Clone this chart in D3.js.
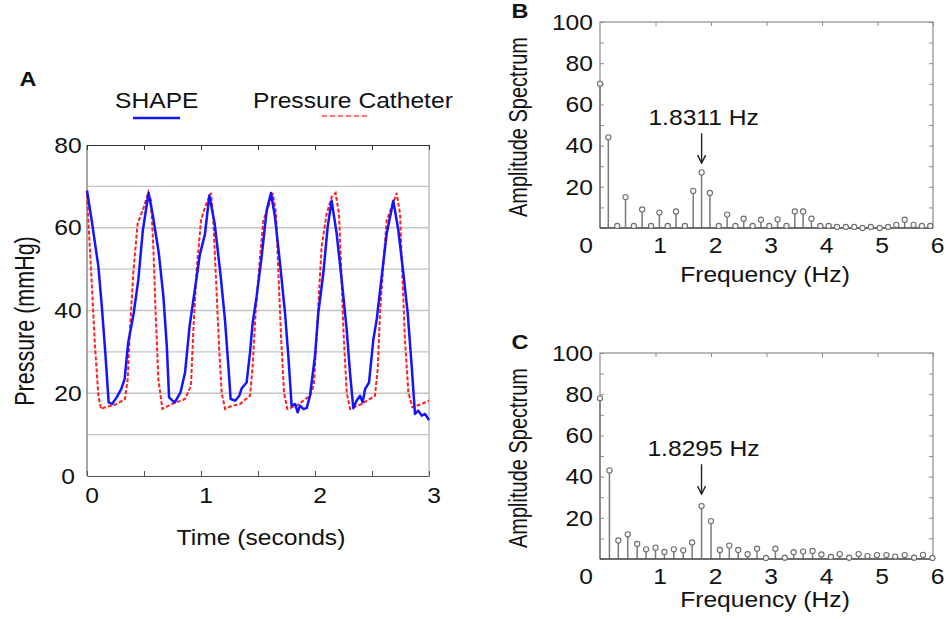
<!DOCTYPE html>
<html>
<head>
<meta charset="utf-8">
<script src="https://cdn.jsdelivr.net/npm/d3@7"></script>
<style>
  body { margin: 0; background: #fff; }
  text { font-family: "Liberation Sans", Arial, sans-serif; fill: #111; }
</style>
</head>
<body>
<div id="chart"></div>
<script>
// ---- panel A: pressure traces (time in s, pressure in mmHg) ----
const shapeT = [0.00, 0.04, 0.10, 0.13, 0.16, 0.19, 0.22, 0.26, 0.30, 0.33, 0.36, 0.41, 0.45, 0.49, 0.54,
  0.58, 0.63, 0.67, 0.70, 0.72, 0.75, 0.77, 0.82, 0.86, 0.90, 0.95, 0.99, 1.035, 1.073,
  1.12, 1.17, 1.21, 1.24, 1.26, 1.30, 1.336, 1.357, 1.40, 1.43, 1.453, 1.488, 1.532, 1.576, 1.614,
  1.649, 1.693, 1.737, 1.766, 1.795, 1.825, 1.848, 1.868, 1.898, 1.927, 1.956, 2.0, 2.029, 2.073, 2.111, 2.146,
  2.19, 2.234, 2.278, 2.307, 2.336, 2.365, 2.395, 2.418, 2.439, 2.474, 2.512, 2.541, 2.585, 2.629, 2.687,
  2.731, 2.775, 2.813, 2.848, 2.877, 2.906, 2.936, 2.965, 3.0];
const shapeP = [69, 62, 50.6, 41, 30, 17.8, 17.4, 19, 21, 23.4, 32, 39.4, 47.4, 59.4, 68.4,
  62.6, 53.8, 43.4, 31.4, 19, 18.2, 17.8, 20.2, 25, 36.2, 45.8, 53.5, 58.5, 67.8,
  61, 49, 37.8, 26.6, 18.6, 18.2, 19.4, 21.2, 22.6, 29.8, 37, 43.4, 53, 64.2, 68.4,
  62.6, 51.4, 39.4, 29, 17, 17.4, 15.4, 17, 16.2, 16.4, 19.4, 29, 39.4, 49, 60.2, 66.5,
  58.6, 47.4, 35.4, 25, 16.4, 18.2, 19.4, 17.8, 21, 22.6, 33, 37.8, 48.2, 58.6, 66.5,
  59.4, 49, 39.4, 26.6, 15, 15.8, 14.6, 15, 13.5];

const cathT = [0.00, 0.04, 0.07, 0.10, 0.123, 0.158, 0.246, 0.333, 0.357, 0.377, 0.406, 0.444, 0.494, 0.538,
  0.561, 0.582, 0.602, 0.626, 0.661, 0.743, 0.86, 0.912, 0.933, 0.962, 1.0, 1.035, 1.088,
  1.108, 1.132, 1.158, 1.181, 1.211, 1.254, 1.342, 1.43, 1.453, 1.479, 1.518, 1.547, 1.591, 1.629,
  1.658, 1.678, 1.702, 1.728, 1.757, 1.839, 1.956, 1.99, 2.029, 2.058, 2.102, 2.146, 2.181,
  2.21, 2.228, 2.249, 2.278, 2.307, 2.41, 2.526, 2.55, 2.57, 2.6, 2.629, 2.673, 2.716,
  2.746, 2.766, 2.789, 2.819, 2.854, 2.936, 3.0];
const cathP = [68, 47.4, 31.4, 19.4, 16.2, 16.6, 17.2, 18.6, 23.4, 35.4, 49, 61, 64.6, 68.6,
  66.6, 55.4, 39.4, 23.4, 16.2, 17.4, 18.6, 21.8, 35.4, 49.8, 61.8, 65, 68.4,
  61.8, 47.4, 31.4, 20.2, 16.2, 16.8, 17.4, 19.4, 26.6, 39.4, 53, 61.8, 65, 68.4,
  63.4, 49.8, 33.8, 20.2, 16.2, 17, 19.4, 22, 41, 55.4, 63.4, 67.4, 68.4,
  63.4, 51.4, 35.4, 20.2, 16.2, 17.4, 19.4, 25.8, 39.4, 51.4, 61.8, 65, 68.4,
  63.4, 49, 33, 20.2, 16.6, 17.4, 18.2];

const timeTicks = [0, 0.5, 1, 1.5, 2, 2.5, 3];
const timeLabels = [0, 1, 2, 3];
const pressureLabels = [0, 20, 40, 60, 80];
const pressureGrid = [10, 20, 30, 40, 50, 60, 70];

// ---- panel B: amplitude spectrum of SHAPE ----
const freqB = [0, 0.15, 0.31, 0.46, 0.61, 0.76, 0.92, 1.07, 1.22, 1.37, 1.53, 1.68, 1.83, 1.98, 2.14, 2.29,
  2.44, 2.59, 2.75, 2.90, 3.05, 3.20, 3.36, 3.51, 3.66, 3.81, 3.97, 4.12, 4.27, 4.43, 4.58, 4.73,
  4.88, 5.04, 5.19, 5.34, 5.49, 5.65, 5.80, 5.95];
const ampB = [70, 44, 1, 15, 1, 9, 1, 7.5, 1, 8, 1, 18, 27, 17, 1, 6.5,
  1, 4.5, 1, 4, 1, 4.2, 1, 8, 8, 4.5, 1, 1, 0.5, 0.5, 0.5, 0,
  0.5, 0, 0.5, 1.5, 4, 1.5, 1, 1];

// ---- panel C: amplitude spectrum of pressure catheter ----
const freqC = [0, 0.17, 0.33, 0.50, 0.67, 0.83, 1.00, 1.16, 1.33, 1.50, 1.66, 1.83, 2.00, 2.16, 2.33, 2.49,
  2.66, 2.83, 2.99, 3.16, 3.33, 3.49, 3.66, 3.83, 3.99, 4.16, 4.32, 4.49, 4.66, 4.82, 4.99, 5.16,
  5.32, 5.49, 5.66, 5.82, 5.99];
const ampC = [78, 43, 9, 12, 7.3, 4.7, 5.5, 3.4, 4.7, 4.2, 8, 25.7, 18.4, 4.4, 6.5, 4.4,
  2.3, 5, 0.5, 5, 0.6, 3.3, 3.6, 3.9, 2.2, 1, 2.4, 0.6, 2.4, 1.4, 1.9, 1.9,
  1.2, 1.9, 0.6, 2, 0.5];

const freqLabels = [1, 2, 3, 4, 5, 6];
const ampLabels = [20, 40, 60, 80, 100];

const SX = 1.12; // the original figure is stretched a bit sideways

const svg = d3.select("#chart").append("svg")
  .attr("width", 948).attr("height", 619);
svg.append("rect").attr("width", 948).attr("height", 619).attr("fill", "#fff");

function txt(g, x, y, s, o = {}) {
  return g.append("text")
    .attr("transform", `translate(${x},${y}) scale(${o.sx || SX},1)` + (o.rotate ? ` rotate(${o.rotate})` : ""))
    .attr("text-anchor", o.anchor || "start")
    .attr("dy", o.dy || null)
    .style("font-size", (o.size || 22) + "px")
    .style("font-weight", o.weight || "normal")
    .text(s);
}

// ================= Panel A =================
const xA = d3.scaleLinear().domain([0, 3]).range([87, 429]);
const yA = d3.scaleLinear().domain([0, 80]).range([476, 145]);
const gA = svg.append("g");

gA.selectAll("line.grid").data(pressureGrid).join("line")
  .attr("x1", xA(0)).attr("x2", xA(3))
  .attr("y1", d => yA(d)).attr("y2", d => yA(d))
  .attr("stroke", "#c4c4c4").attr("stroke-width", 1.4);

// frame
gA.append("line").attr("x1", xA(0)).attr("x2", xA(0)).attr("y1", yA(0)).attr("y2", yA(80))
  .attr("stroke", "#8a8a8a").attr("stroke-width", 1.5);
gA.append("line").attr("x1", xA(3)).attr("x2", xA(3)).attr("y1", yA(0)).attr("y2", yA(80))
  .attr("stroke", "#b0b0b0").attr("stroke-width", 1.2);

gA.append("g").attr("transform", `translate(0,${yA(80)})`)
  .call(d3.axisBottom(xA).tickValues(timeTicks).tickSize(5).tickFormat("").tickSizeOuter(0))
  .call(g => g.selectAll("line, path").attr("stroke", "#333"));
gA.append("g").attr("transform", `translate(0,${yA(0)})`)
  .call(d3.axisTop(xA).tickValues(timeTicks).tickSize(5).tickFormat("").tickSizeOuter(0))
  .call(g => g.selectAll("line, path").attr("stroke", "#555"));

const lineA = d3.line().x(d => xA(d[0])).y(d => yA(d[1]));
gA.append("path").datum(d3.zip(cathT, cathP)).attr("d", lineA)
  .attr("fill", "none").attr("stroke", "#ff2020").attr("stroke-width", 2)
  .attr("stroke-dasharray", "4,2");
gA.append("path").datum(d3.zip(shapeT, shapeP)).attr("d", lineA)
  .attr("fill", "none").attr("stroke", "#1414ff").attr("stroke-width", 2.5)
  .attr("stroke-linejoin", "round");

pressureLabels.forEach(v => txt(gA, 68, yA(v), v, { anchor: "middle", dy: "0.35em" }));
timeLabels.forEach(v => txt(gA, xA(v) + 5, 495, v, { anchor: "middle", dy: "0.35em" }));
txt(gA, 261, 545, "Time (seconds)", { anchor: "middle" });
txt(gA, 34, 321, "Pressure (mmHg)", { anchor: "middle", rotate: -90, size: 21.5, sx: 1.3 });
txt(gA, 28, 86, "A", { anchor: "middle", weight: "bold", size: 21 });

// legend
txt(gA, 115, 108, "SHAPE");
gA.append("line").attr("x1", 133).attr("x2", 180).attr("y1", 118).attr("y2", 118)
  .attr("stroke", "#1414ff").attr("stroke-width", 2.5);
txt(gA, 253, 108, "Pressure Catheter");
gA.append("line").attr("x1", 322).attr("x2", 367).attr("y1", 116).attr("y2", 116)
  .attr("stroke", "#ff4040").attr("stroke-width", 1.6).attr("stroke-dasharray", "5,3");

// ================= Panels B and C =================
svg.append("defs").append("marker")
  .attr("id", "head").attr("viewBox", "0 0 10 10").attr("refX", 9).attr("refY", 5)
  .attr("markerWidth", 10).attr("markerHeight", 10).attr("markerUnits", "userSpaceOnUse")
  .attr("orient", "auto")
  .append("path").attr("d", "M1,1 L9,5 L1,9").attr("fill", "none")
  .attr("stroke", "#222").attr("stroke-width", 1.4);

function spectrum(freq, amp, top, bottom, letter, peakLabel, peakFreq, titleY) {
  const x = d3.scaleLinear().domain([0, 6]).range([600, 933]);
  const y = d3.scaleLinear().domain([0, 100]).range([bottom, top]);
  const g = svg.append("g");
  const ticks10 = d3.range(0, 101, 10);

  // frame
  g.append("rect").attr("x", x(0)).attr("y", y(100)).attr("width", x(6) - x(0)).attr("height", y(0) - y(100))
    .attr("fill", "none").attr("stroke", "#8c8c8c").attr("stroke-width", 1.2);
  g.append("g").attr("transform", `translate(${x(0)},0)`)
    .call(d3.axisRight(y).tickValues(ticks10).tickSize(4).tickFormat("").tickSizeOuter(0))
    .call(s => s.selectAll("line").attr("stroke", "#8c8c8c")).call(s => s.select(".domain").remove());
  g.append("g").attr("transform", `translate(${x(6)},0)`)
    .call(d3.axisLeft(y).tickValues(ticks10).tickSize(4).tickFormat("").tickSizeOuter(0))
    .call(s => s.selectAll("line").attr("stroke", "#8c8c8c")).call(s => s.select(".domain").remove());
  g.append("g").attr("transform", `translate(0,${y(100)})`)
    .call(d3.axisBottom(x).tickValues(freqLabels).tickSize(4).tickFormat("").tickSizeOuter(0))
    .call(s => s.selectAll("line").attr("stroke", "#8c8c8c")).call(s => s.select(".domain").remove());

  // stems
  const pts = d3.zip(freq, amp);
  g.selectAll("line.stem").data(pts).join("line")
    .attr("x1", d => x(d[0])).attr("x2", d => x(d[0]))
    .attr("y1", y(0)).attr("y2", d => y(d[1]))
    .attr("stroke", "#7a7a7a").attr("stroke-width", 1.5);
  g.append("line").attr("x1", x(0)).attr("x2", x(6)).attr("y1", y(0)).attr("y2", y(0))
    .attr("stroke", "#555").attr("stroke-width", 1.6);
  g.selectAll("circle").data(pts).join("circle")
    .attr("cx", d => x(d[0])).attr("cy", d => y(d[1])).attr("r", 2.6)
    .attr("fill", "#fafafa").attr("stroke", "#6e6e6e").attr("stroke-width", 1.1);

  // labels
  ampLabels.forEach(v => txt(g, 593, y(v), v, { anchor: "end", dy: "0.35em" }));
  txt(g, 593, y(0) + 17, "0", { anchor: "end", dy: "0.35em" });
  freqLabels.forEach(v => txt(g, x(v) + 4.5, y(0) + 17, v, { anchor: "middle", dy: "0.35em" }));
  txt(g, 765, titleY, "Frequency (Hz)", { anchor: "middle" });
  txt(g, 527, (y(100) + y(0)) / 2 + 2, "Amplitude Spectrum", { anchor: "middle", rotate: -90, size: 20, sx: 1.3 });
  txt(g, 520, y(100) - 4, letter, { anchor: "middle", weight: "bold", size: 21 });

  // peak annotation
  txt(g, x(peakFreq) + 2, y(50), peakLabel, { anchor: "middle" });
  g.append("line").attr("x1", x(peakFreq)).attr("x2", x(peakFreq))
    .attr("y1", y(46)).attr("y2", y(31.5))
    .attr("stroke", "#222").attr("stroke-width", 1.4).attr("marker-end", "url(#head)");
}

spectrum(freqB, ampB, 22, 228, "B", "1.8311 Hz", 1.8311, 282);
spectrum(freqC, ampC, 353, 559, "C", "1.8295 Hz", 1.8295, 607);
</script>
</body>
</html>
